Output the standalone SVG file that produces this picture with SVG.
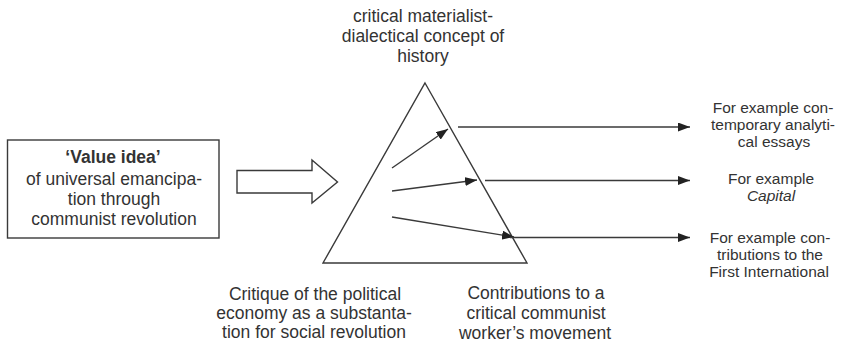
<svg xmlns="http://www.w3.org/2000/svg" width="843" height="345" viewBox="0 0 843 345">
<style>
  .t { font-family: "Liberation Sans", Arial, sans-serif; font-size: 17.5px; fill: #333; text-anchor: middle; }
  .r { font-family: "Liberation Sans", Arial, sans-serif; font-size: 15.5px; fill: #333; text-anchor: middle; }
  .s { fill: none; stroke: #3a3a3a; stroke-width: 1.4; }
  .ln { fill: none; stroke: #3a3a3a; stroke-width: 1.4; marker-end: url(#ah); }
</style>
<defs>
  <marker id="ah" viewBox="0 0 12 9" refX="12" refY="4.5" markerWidth="12" markerHeight="9" markerUnits="userSpaceOnUse" orient="auto">
    <path d="M0,0 L12,4.5 L0,9 z" fill="#222"/>
  </marker>
</defs>
<rect width="843" height="345" fill="#fff"/>

<g id="value-idea">
  <rect class="s" x="7.5" y="140" width="211.5" height="98"/>
  <text class="t" x="113" y="163" font-weight="bold">‘Value idea’</text>
  <text class="t" x="114" y="185">of universal emancipa-</text>
  <text class="t" x="114" y="205">tion through</text>
  <text class="t" x="114" y="225">communist revolution</text>
</g>

<g id="big-arrow">
  <path class="s" d="M237,170.5 L312,170.5 L312,160 L337.5,182 L312,203 L312,193 L237,193 Z"/>
</g>

<g id="prism">
  <path class="s" d="M425,83 L527,263 L323,263 Z"/>
</g>

<g id="top-label">
  <text class="t" x="423" y="22">critical materialist-</text>
  <text class="t" x="423" y="42">dialectical concept of</text>
  <text class="t" x="423" y="62">history</text>
</g>

<g id="bottom-left-label">
  <text class="t" x="315" y="300">Critique of the political</text>
  <text class="t" x="314" y="319">economy as a substanta-</text>
  <text class="t" x="314" y="338">tion for social revolution</text>
</g>

<g id="bottom-right-label">
  <text class="t" x="536" y="299">Contributions to a</text>
  <text class="t" x="536" y="319">critical communist</text>
  <text class="t" x="535" y="339">worker’s movement</text>
</g>

<g id="output-1">
  <text class="r" x="773" y="113">For example con-</text>
  <text class="r" x="773" y="130">temporary analyti-</text>
  <text class="r" x="774" y="147">cal essays</text>
</g>
<g id="output-2">
  <text class="r" x="771" y="184">For example</text>
  <text class="r" x="771" y="201" font-style="italic">Capital</text>
</g>
<g id="output-3">
  <text class="r" x="770" y="243">For example con-</text>
  <text class="r" x="770" y="260">tributions to the</text>
  <text class="r" x="769" y="277">First International</text>
</g>

<g id="connectors">
  <line class="ln" x1="392" y1="168" x2="448" y2="129"/>
  <line class="ln" x1="392" y1="191" x2="477" y2="180"/>
  <line class="ln" x1="392" y1="217" x2="514" y2="237"/>
  <line class="ln" x1="458" y1="127" x2="690" y2="127"/>
  <line class="ln" x1="485" y1="180.5" x2="690" y2="180.5"/>
  <line class="ln" x1="510" y1="237.5" x2="690" y2="237.5"/>
</g>
</svg>
